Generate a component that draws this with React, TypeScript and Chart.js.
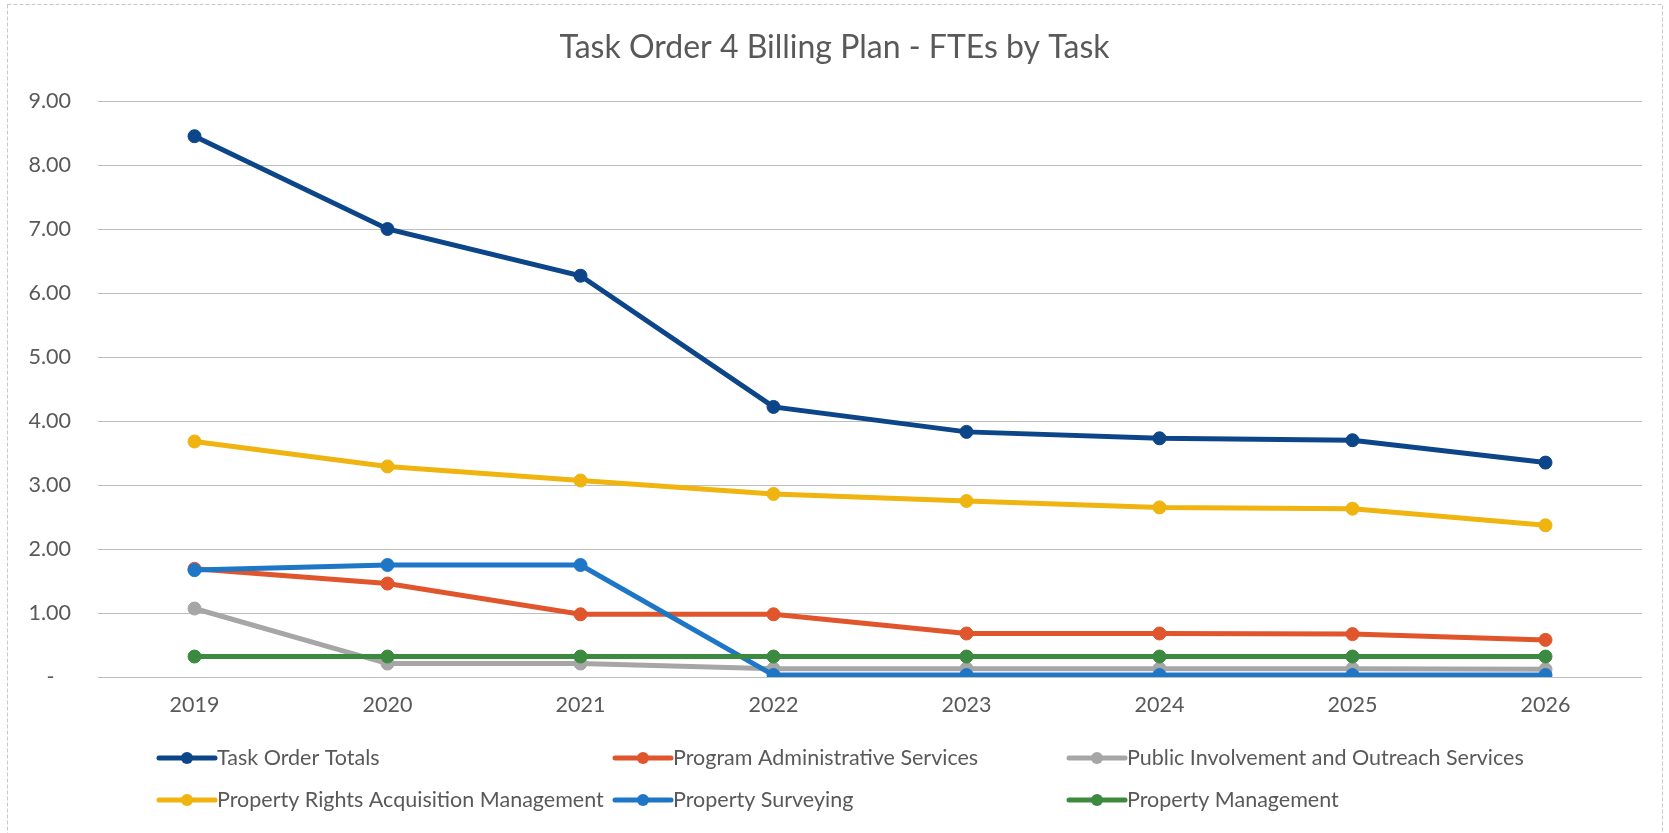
import React, { useEffect, useRef } from "react";
import { Chart, registerables } from "chart.js";

Chart.register(...registerables);

const chartTitle = "Task Order 4 Billing Plan - FTEs by Task";
const years = ["2019", "2020", "2021", "2022", "2023", "2024", "2025", "2026"];

const seriesNames = [
  "Task Order Totals",
  "Program Administrative Services",
  "Public Involvement and Outreach Services",
  "Property Rights Acquisition Management",
  "Property Surveying",
  "Property Management",
];

const taskOrderTotals = [8.45, 7.0, 6.27, 4.22, 3.83, 3.73, 3.7, 3.35];
const programAdmin = [1.69, 1.46, 0.98, 0.98, 0.68, 0.68, 0.67, 0.58];
const publicInvolvement = [1.07, 0.21, 0.21, 0.13, 0.13, 0.13, 0.13, 0.12];
const rightsAcquisition = [3.68, 3.29, 3.07, 2.86, 2.75, 2.65, 2.63, 2.37];
const surveying = [1.67, 1.75, 1.75, 0.03, 0.03, 0.03, 0.03, 0.03];
const propertyMgmt = [0.32, 0.32, 0.32, 0.32, 0.32, 0.32, 0.32, 0.32];

const seriesColors = ["#0c4689", "#e0552c", "#a6a6a6", "#efb40f", "#1d76c6", "#3b8a40"];

const yTickValues = [0, 1, 2, 3, 4, 5, 6, 7, 8, 9];

const FONT = "Lato, 'Open Sans', sans-serif";
const TEXT_COLOR = "#595959";

const decorPlugin = {
  id: "decor",
  beforeDraw(chart: any) {
    const ctx = chart.ctx;
    ctx.save();
    ctx.fillStyle = "#ffffff";
    ctx.fillRect(0, 0, chart.width, chart.height);
    ctx.strokeStyle = "#c8c8c8";
    ctx.lineWidth = 1;
    ctx.setLineDash([4, 2]);
    ctx.strokeRect(7.5, 4.5, chart.width - 14, chart.height + 10);
    ctx.restore();
  },
  afterDraw(chart: any) {
    const ctx = chart.ctx;
    ctx.save();
    // title
    ctx.fillStyle = TEXT_COLOR;
    ctx.font = `32px ${FONT}`;
    ctx.textAlign = "center";
    ctx.textBaseline = "middle";
    ctx.fillText(chartTitle, chart.width / 2, 48);
    // legend
    const colX = [159, 615, 1069];
    const rowY = [758, 800];
    chart.data.datasets.forEach((ds: any, i: number) => {
      const x0 = colX[i % 3];
      const y = rowY[Math.floor(i / 3)];
      ctx.strokeStyle = ds.borderColor;
      ctx.lineWidth = 5;
      ctx.lineCap = "round";
      ctx.beginPath();
      ctx.moveTo(x0, y);
      ctx.lineTo(x0 + 56, y);
      ctx.stroke();
      ctx.fillStyle = ds.borderColor;
      ctx.beginPath();
      ctx.arc(x0 + 28, y, 6, 0, Math.PI * 2);
      ctx.fill();
      ctx.fillStyle = TEXT_COLOR;
      ctx.font = `21.5px ${FONT}`;
      ctx.textAlign = "left";
      ctx.textBaseline = "middle";
      ctx.fillText(ds.label, x0 + 58, y);
    });
    ctx.restore();
  },
};

export default function App() {
  const ref = useRef<HTMLCanvasElement>(null);

  useEffect(() => {
    const values = [
      taskOrderTotals,
      programAdmin,
      publicInvolvement,
      rightsAcquisition,
      surveying,
      propertyMgmt,
    ];
    const datasets = values.map((data, i) => ({
      label: seriesNames[i],
      data,
      borderColor: seriesColors[i],
      backgroundColor: seriesColors[i],
      pointBackgroundColor: seriesColors[i],
      pointBorderColor: seriesColors[i],
      borderWidth: 5,
      pointRadius: 6.5,
      pointBorderWidth: 1,
      tension: 0,
      order: values.length - i,
    }));

    const chart = new Chart(ref.current as HTMLCanvasElement, {
      type: "line",
      data: { labels: years, datasets },
      plugins: [decorPlugin],
      options: {
        animation: false,
        responsive: false,
        devicePixelRatio: 1,
        layout: { padding: { top: 101, right: 27, left: 0, bottom: 0 } },
        plugins: {
          legend: { display: false },
          title: { display: false },
          tooltip: { enabled: false },
        },
        scales: {
          x: {
            offset: true,
            grid: { display: false },
            border: { display: false },
            ticks: {
              color: TEXT_COLOR,
              font: { family: FONT, size: 21.5 },
              padding: 7,
              maxRotation: 0,
            },
            afterFit: (s: any) => {
              s.height = 156;
            },
          },
          y: {
            min: 0,
            max: 9,
            border: { display: false },
            grid: { color: "#bdbdbd", lineWidth: 1, drawTicks: false },
            afterBuildTicks: (s: any) => {
              s.ticks = yTickValues.map((v) => ({ value: v }));
            },
            ticks: {
              color: TEXT_COLOR,
              font: { family: FONT, size: 21.5 },
              padding: 27,
              callback: (v: any) => (Number(v) === 0 ? "-   " : Number(v).toFixed(2)),
            },
            afterFit: (s: any) => {
              s.width = 98;
            },
          },
        },
      },
    });
    return () => chart.destroy();
  }, []);

  return (
    <div style={{ position: "fixed", left: 0, top: 0, width: 1669, height: 833, background: "#fff" }}>
      <canvas ref={ref} width={1669} height={833} style={{ display: "block", width: 1669, height: 833 }} />
    </div>
  );
}
